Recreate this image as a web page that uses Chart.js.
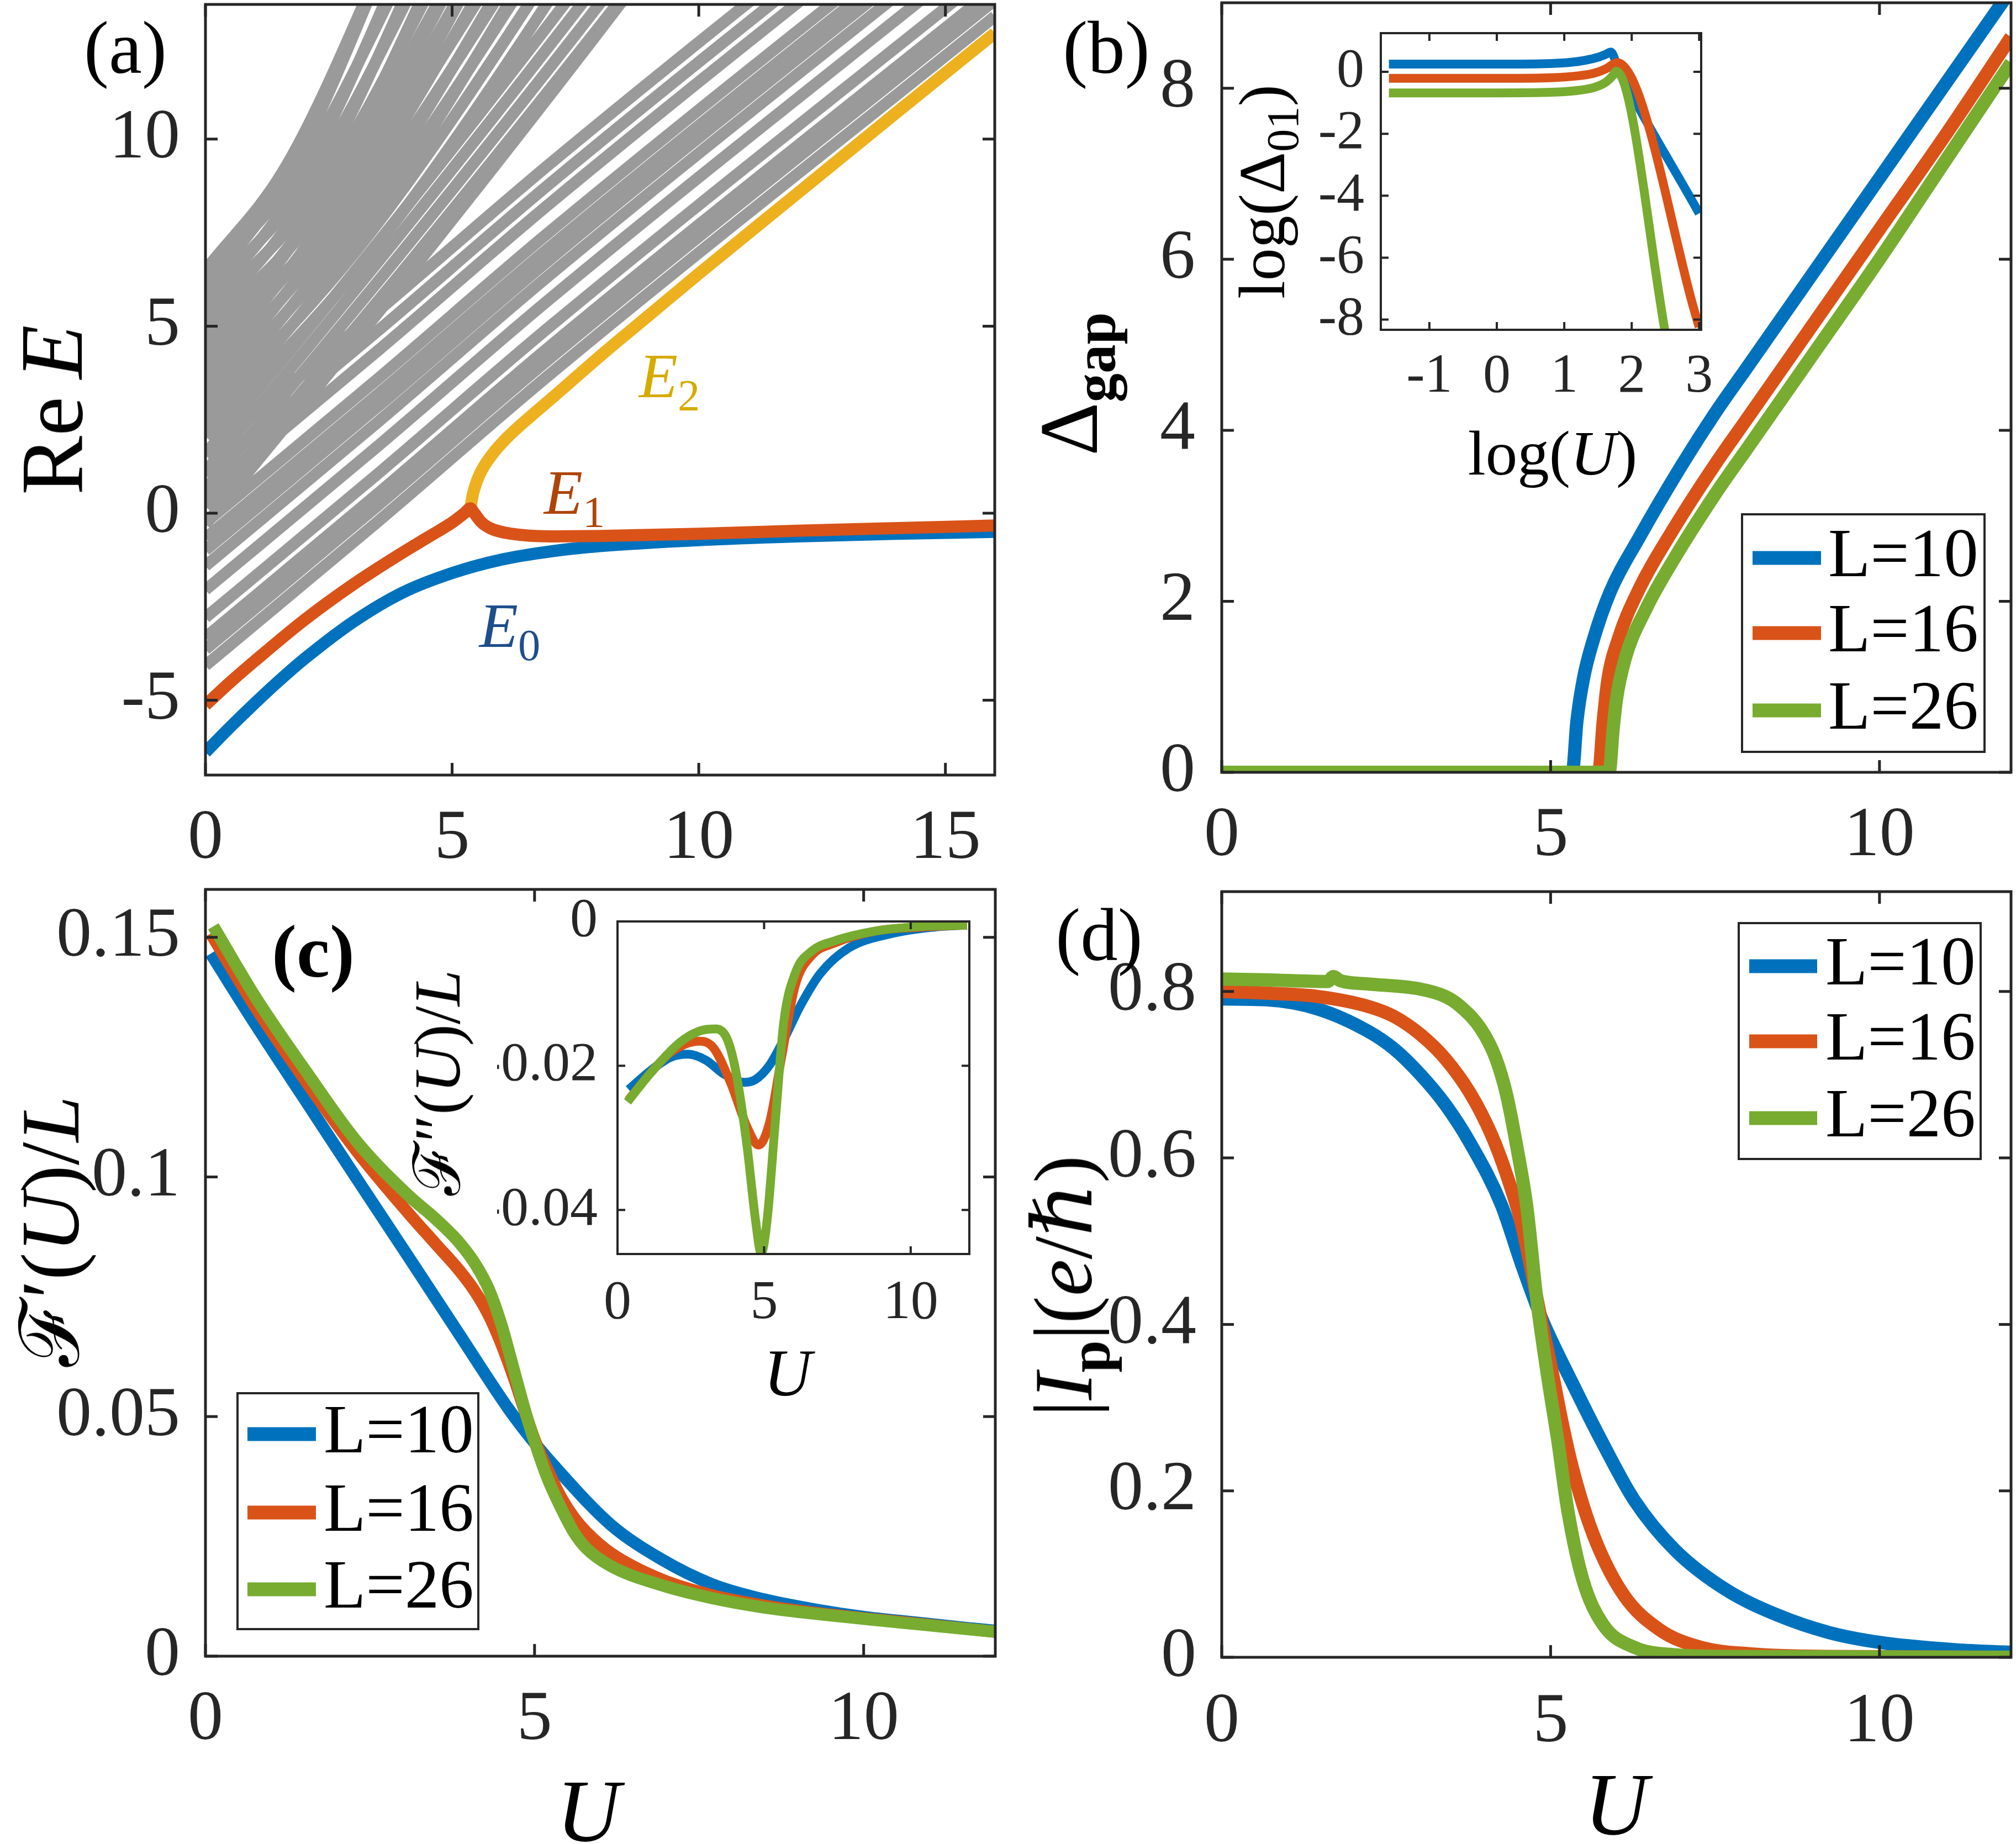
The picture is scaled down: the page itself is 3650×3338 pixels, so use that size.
<!DOCTYPE html>
<html>
<head>
<meta charset="utf-8">
<script src="https://cdn.jsdelivr.net/npm/chart.js@4.4.1/dist/chart.umd.min.js"></script>
<style>
  html, body { margin: 0; padding: 0; background: #fff; }
  #fig { position: relative; width: 3650px; height: 3338px; background: #fff; overflow: hidden;
         font-family: "Liberation Serif", "DejaVu Serif", serif; color: #000; }
  #fig canvas { position: absolute; }
  .lab { position: absolute; white-space: nowrap; line-height: 1; }
  .rot { transform: translate(-50%, -50%) rotate(-90deg); }
  .ctr { transform: translate(-50%, -50%); }
  .sb { font-size: 0.7em; position: relative; top: 0.3em; }
</style>
</head>
<body>
<div id="fig">
  <!-- panel letters -->
  <div class="lab ctr" style="left:227px;top:86px;font-size:135px">(a)</div>
  <div class="lab ctr" style="left:2003px;top:86px;font-size:135px">(b)</div>
  <div class="lab ctr" style="left:567px;top:1722px;font-size:135px;font-weight:bold">(c)</div>
  <div class="lab ctr" style="left:1990px;top:1692px;font-size:135px">(d)</div>

  <!-- axis titles -->
  <div class="lab rot" style="left:94px;top:742px;font-size:160px">Re&#8201;<i>E</i></div>
  <div class="lab rot" style="left:1935px;top:695px;font-size:150px">&Delta;<span class="sb" style="font-weight:bold">gap</span></div>
  <div class="lab rot" style="left:91px;top:2229px;font-size:150px">&#8497;&#8242;(<i>U</i>)/<i>L</i></div>
  <div class="lab rot" style="left:1925px;top:2328px;font-size:150px">|<i>I</i><span class="sb" style="font-weight:bold">p</span>|(<i>e</i>/<i>&#8463;</i>)</div>
  <div class="lab ctr" style="left:1065px;top:3278px;font-size:160px"><i>U</i></div>
  <div class="lab ctr" style="left:2926px;top:3266px;font-size:160px"><i>U</i></div>
</div>

<script>
// ---------- panel (a): Re E vs U ----------
const aTicksX = [0, 5, 10, 15];
const aTicksY = [-5, 0, 5, 10];

const e0U = [0, 0.5, 1, 1.5, 2, 3, 4, 5, 6, 7, 8, 10, 12, 14, 16];
const e0E = [-6.39, -5.72, -5.08, -4.47, -3.9, -2.9, -2.12, -1.6, -1.24, -1.02, -0.88, -0.72, -0.62, -0.55, -0.5];

const e1U = [0, 0.5, 1, 2, 3, 4, 4.5, 5, 5.25, 5.37, 5.45, 5.6, 5.8, 6.2, 7, 8, 10, 12, 14, 16];
const e1E = [-5.13, -4.52, -3.95, -2.86, -1.9, -1.05, -0.65, -0.25, 0.0, 0.13, 0.0, -0.25, -0.42, -0.55, -0.62, -0.61, -0.55, -0.47, -0.4, -0.33];

const e2U = [5.37, 5.42, 5.5, 5.6, 5.8, 6.1, 6.6, 7, 8, 9, 10, 12, 14, 16];
const e2E = [0.13, 0.5, 0.85, 1.15, 1.55, 2.0, 2.6, 3.05, 4.2, 5.3, 6.4, 8.55, 10.7, 12.83];

// steep gray levels (U, E) that leave through the top
const grayFan = [
  [[0, 6.5], [1.6, 9.2], [3.2, 13.6], [4.16, 16.8]],
  [[0, 6.27], [1.84, 9.06], [3.68, 13.6], [4.78, 16.9]],
  [[0, 6.03], [1.63, 8.91], [3.26, 13.6], [4.24, 17.01]],
  [[0, 5.8], [2.02, 8.76], [4.04, 13.6], [5.25, 17.11]],
  [[0, 5.56], [1.81, 8.62], [3.62, 13.6], [4.71, 17.22]],
  [[0, 5.33], [2.2, 8.47], [4.4, 13.6], [5.72, 17.32]],
  [[0, 5.09], [1.99, 8.32], [3.98, 13.6], [5.17, 17.43]],
  [[0, 4.86], [2.38, 8.18], [4.76, 13.6], [6.19, 17.53]],
  [[0, 4.62], [2.17, 8.03], [4.33, 13.6], [5.63, 17.64]],
  [[0, 4.39], [2.56, 7.89], [5.11, 13.6], [6.64, 17.74]],
  [[0, 4.16], [2.35, 8.31], [4.69, 13.6], [6.1, 17.19]],
  [[0, 3.92], [2.74, 8.18], [5.47, 13.6], [7.11, 17.28]],
  [[0, 3.69], [2.53, 8.05], [5.05, 13.6], [6.57, 17.37]],
  [[0, 3.45], [2.92, 7.92], [5.83, 13.6], [7.58, 17.46]],
  [[0, 3.22], [2.71, 7.79], [5.41, 13.6], [7.03, 17.54]],
  [[0, 2.98], [3.1, 7.65], [6.19, 13.6], [8.05, 17.64]],
  [[0, 2.75], [2.89, 7.52], [5.77, 13.6], [7.5, 17.72]],
  [[0, 2.51], [3.28, 7.39], [6.55, 13.6], [8.52, 17.81]],
  [[0, 2.28], [3.07, 7.26], [6.13, 13.6], [7.97, 17.9]],
  [[0, 2.05], [3.46, 7.13], [6.91, 13.6], [8.98, 17.99]],
  [[0, 1.58], [3.64, 7.47], [7.27, 13.6], [9.45, 17.45]],
  [[0, 1.11], [3.81, 7.23], [7.62, 13.6], [9.91, 17.6]],
  [[0, 0.64], [3.99, 6.99], [7.98, 13.6], [10.37, 17.75]],
  [[0, 0.17], [4.17, 6.75], [8.34, 13.6], [10.84, 17.9]],
  [[0, -0.3], [4.2, 6.51], [8.4, 13.6], [10.92, 18.05]]
];
// gray levels running parallel to E2
const grayBranch = [
  [[0, -4.07], [3.5, -0.22], [7, 3.73], [16, 13.28]],
  [[0, -3.64], [3.5, 0.21], [7, 4.16], [16, 13.71]],
  [[0, -3.32], [3.5, 0.53], [7, 4.48], [16, 14.03]],
  [[0, -2.79], [3.5, 1.06], [7, 5.01], [16, 14.56]],
  [[0, -2.05], [3.5, 1.8], [7, 5.75], [16, 15.3]],
  [[0, -1.41], [3.5, 2.44], [7, 6.39], [16, 15.94]],
  [[0, -0.99], [3.5, 2.86], [7, 6.81], [16, 16.36]],
  [[0, -0.67], [3.5, 3.18], [7, 7.13], [16, 16.68]],
  [[0, -0.25], [3.5, 3.6], [7, 7.55], [16, 17.1]],
  [[0, 0.5], [3.5, 4.35], [7, 8.3], [16, 17.85]],
  [[0, 1.03], [3.5, 4.88], [7, 8.83], [16, 18.38]],
  [[0, 1.56], [3.5, 5.41], [7, 9.36], [16, 18.91]]
];

// ---------- panel (b): gap vs U ----------
const bTicksX = [0, 5, 10];
const bTicksY = [0, 2, 4, 6, 8];
const gapU10 = [0, 5.33, 5.4, 5.5, 5.65, 5.9, 6.35, 7.0, 7.5, 8.0, 9.0, 10.0, 11.0, 12.0];
const gap10 = [0, 0, 0.6, 1.1, 1.55, 2.1, 2.75, 3.6, 4.2, 4.75, 5.85, 6.95, 8.05, 9.15];
const gapU16 = [0, 5.73, 5.8, 5.87, 6.03, 6.35, 6.88, 7.5, 8.0, 9.0, 10.0, 11.0, 12.0];
const gap16 = [0, 0, 0.6, 1.08, 1.56, 2.15, 2.86, 3.6, 4.15, 5.25, 6.35, 7.45, 8.6];
const gapU26 = [0, 5.89, 5.95, 6.0, 6.13, 6.45, 6.88, 7.5, 8.0, 9.0, 10.0, 11.0, 12.0];
const gap26 = [0, 0, 0.5, 0.85, 1.32, 1.91, 2.5, 3.25, 3.8, 4.9, 6.0, 7.15, 8.3];

// inset of (b): log(gap) vs log(U)
const biTicksX = [-1, 0, 1, 2, 3];
const biTicksY = [-8, -6, -4, -2, 0];
const lgU10 = [-1.6, 0, 0.8, 1.1, 1.3, 1.5, 1.62, 1.69, 1.8, 3.0];
const lgD10 = [0.25, 0.25, 0.27, 0.31, 0.37, 0.47, 0.57, 0.64, 0.11, -4.57];
const lgU16 = [-1.6, 0, 0.8, 1.2, 1.45, 1.62, 1.72, 1.78, 3.0];
const lgD16 = [-0.21, -0.21, -0.19, -0.13, -0.04, 0.1, 0.24, 0.3, -8.24];
const lgU26 = [-1.6, 0, 0.8, 1.2, 1.45, 1.62, 1.72, 1.77, 2.52];
const lgD26 = [-0.68, -0.68, -0.66, -0.6, -0.5, -0.33, -0.12, 0.02, -8.7];

// ---------- panel (c): F'(U)/L ----------
const cTicksX = [0, 5, 10];
const cTicksY = [0, 0.05, 0.1, 0.15];
const fU10 = [0.08, 0.77, 1.54, 2.31, 3.08, 3.85, 4.62, 4.97, 5.39, 6.16, 6.93, 7.7, 8.47, 9.24, 10.0, 10.8, 11.56, 12.0];
const f10 = [0.1466, 0.1316, 0.1155, 0.0994, 0.0834, 0.0673, 0.0513, 0.045, 0.0383, 0.0274, 0.0202, 0.015, 0.0119, 0.0098, 0.0082, 0.007, 0.0059, 0.0053];
const fU16 = [0.08, 0.77, 1.54, 2.31, 3.08, 3.5, 3.85, 4.1, 4.31, 4.5, 4.7, 4.85, 5.0, 5.2, 5.4, 5.6, 5.78, 6.16, 6.93, 7.7, 8.47, 9.24, 10.8, 12.0];
const f16 = [0.1508, 0.1352, 0.1197, 0.1052, 0.0925, 0.086, 0.0806, 0.076, 0.071, 0.065, 0.0575, 0.0512, 0.0452, 0.0388, 0.0332, 0.0289, 0.026, 0.0215, 0.016, 0.0127, 0.0106, 0.0091, 0.0068, 0.0051];
const fU26 = [0.12, 0.77, 1.54, 2.31, 3.08, 3.5, 3.85, 4.1, 4.31, 4.5, 4.7, 4.85, 5.0, 5.2, 5.4, 5.6, 5.78, 6.16, 6.93, 7.7, 8.47, 9.24, 10.8, 12.0];
const f26 = [0.1523, 0.1373, 0.1218, 0.1072, 0.0962, 0.0912, 0.0864, 0.0818, 0.0764, 0.069, 0.059, 0.0515, 0.0448, 0.037, 0.031, 0.0258, 0.0226, 0.0188, 0.0148, 0.0121, 0.0102, 0.0089, 0.0067, 0.0051];

// inset of (c): F''(U)/L
const ciTicksX = [0, 5, 10];
const ciTicksY = [-0.04, -0.02, 0];
const fiU10 = [0.38, 1.15, 1.83, 2.4, 3.0, 3.65, 4.33, 4.71, 5.19, 5.67, 6.25, 6.92, 7.88, 9.33, 10.77, 11.92];
const fi10 = [-0.0233, -0.0206, -0.0188, -0.0184, -0.0192, -0.0212, -0.0223, -0.0219, -0.0199, -0.0164, -0.0116, -0.0072, -0.0037, -0.0017, -0.0008, -0.0005];
const fiU16 = [0.38, 1.15, 1.83, 2.79, 3.27, 3.85, 4.42, 4.81, 5.19, 5.58, 6.06, 6.63, 7.4, 8.85, 10.3, 11.92];
const fi16 = [-0.0247, -0.0209, -0.0181, -0.0166, -0.0175, -0.0223, -0.0285, -0.031, -0.0278, -0.0192, -0.0089, -0.0047, -0.003, -0.0013, -0.0008, -0.0005];
const fiU26 = [0.34, 1.15, 2.12, 2.79, 3.37, 3.75, 4.04, 4.42, 4.71, 4.9, 5.1, 5.38, 5.67, 6.06, 6.63, 7.4, 8.85, 10.3, 11.92];
const fi26 = [-0.025, -0.0209, -0.0168, -0.0152, -0.0149, -0.0164, -0.0209, -0.0312, -0.0415, -0.046, -0.0415, -0.0278, -0.014, -0.0072, -0.0041, -0.0027, -0.0013, -0.0007, -0.0005];

// ---------- panel (d): |Ip| ----------
const dTicksX = [0, 5, 10];
const dTicksY = [0, 0.2, 0.4, 0.6, 0.8];
const iU10 = [0, 0.68, 1.46, 2.23, 2.62, 3.01, 3.40, 3.79, 4.25, 4.56, 4.87, 5.34, 5.80, 6.27, 6.89, 7.67, 8.44, 9.22, 9.99, 11.16, 12.0];
const i10 = [0.791, 0.790, 0.779, 0.752, 0.731, 0.701, 0.664, 0.616, 0.544, 0.472, 0.406, 0.328, 0.256, 0.189, 0.129, 0.081, 0.051, 0.030, 0.018, 0.009, 0.006];
const iU16 = [0, 0.68, 1.46, 2.23, 2.62, 3.01, 3.40, 3.79, 4.10, 4.33, 4.56, 4.72, 4.87, 5.03, 5.18, 5.34, 5.65, 6.11, 6.66, 7.28, 8.05, 9.22, 12.0];
const i16 = [0.800, 0.798, 0.794, 0.782, 0.770, 0.749, 0.719, 0.676, 0.628, 0.580, 0.520, 0.460, 0.400, 0.340, 0.280, 0.225, 0.147, 0.075, 0.033, 0.012, 0.004, 0.001, 0];
const iU26 = [0, 0.68, 1.61, 1.7, 1.8, 2.23, 3.01, 3.40, 3.63, 3.94, 4.17, 4.33, 4.48, 4.64, 4.79, 4.95, 5.11, 5.26, 5.49, 5.80, 6.27, 6.89, 7.67, 12.0];
const i26 = [0.815, 0.814, 0.812, 0.818, 0.813, 0.809, 0.803, 0.794, 0.782, 0.755, 0.719, 0.676, 0.616, 0.540, 0.430, 0.340, 0.260, 0.177, 0.093, 0.039, 0.012, 0.003, 0.001, 0];

const seriesLabels = ['L=10', 'L=16', 'L=26'];

// ---------- drawing ----------
const FONT = '"Liberation Serif", "Times New Roman", serif';
const AXIS = '#262626';
const BLUE = '#0072BD', RED = '#D95319', YEL = '#EDB120', GRN = '#77AC30', GRAY = '#9A9A9A';
const fig = document.getElementById('fig');

const pts = (xs, ys) => xs.map((x, i) => ({ x, y: ys[i] }));
const pairs = arr => arr.map(([x, y]) => ({ x, y }));

function line(data, color, width, order, label) {
  return { label, data, borderColor: color, borderWidth: width, pointRadius: 0, fill: false,
           cubicInterpolationMode: 'monotone', borderJoinStyle: 'round', borderCapStyle: 'butt', order };
}

// MATLAB-like box with inward ticks on all four sides
const matBox = {
  id: 'matBox',
  beforeDatasetsDraw(chart, args, o) {
    if (!o.fill) return;
    const a = chart.chartArea, ctx = chart.ctx;
    ctx.save();
    ctx.fillStyle = o.fill;
    ctx.fillRect(a.left, a.top, a.right - a.left, a.bottom - a.top);
    ctx.restore();
  },
  afterDatasetsDraw(chart, args, o) {
    const { ctx, chartArea: a, scales: { x, y } } = chart;
    ctx.save();
    ctx.strokeStyle = AXIS;
    ctx.lineWidth = o.lw;
    ctx.beginPath();
    x.ticks.forEach(t => {
      const px = x.getPixelForValue(t.value);
      ctx.moveTo(px, a.bottom); ctx.lineTo(px, a.bottom - o.tick);
      ctx.moveTo(px, a.top); ctx.lineTo(px, a.top + o.tick);
    });
    y.ticks.forEach(t => {
      const py = y.getPixelForValue(t.value);
      ctx.moveTo(a.left, py); ctx.lineTo(a.left + o.tick, py);
      ctx.moveTo(a.right, py); ctx.lineTo(a.right - o.tick, py);
    });
    ctx.stroke();
    ctx.strokeRect(a.left, a.top, a.right - a.left, a.bottom - a.top);
    ctx.restore();
  }
};

// boxed legend, placed in page coordinates
const boxLegend = {
  id: 'boxLegend',
  afterDraw(chart, args, o) {
    if (!o || !o.rect) return;
    const ctx = chart.ctx;
    const [x, y, w, h] = o.rect;
    ctx.save();
    ctx.translate(-o.ox, -o.oy);
    ctx.fillStyle = '#fff';
    ctx.fillRect(x, y, w, h);
    ctx.lineWidth = 4;
    ctx.strokeStyle = AXIS;
    ctx.strokeRect(x, y, w, h);
    chart.data.datasets.forEach((d, i) => {
      const cy = o.rows[i];
      ctx.strokeStyle = d.borderColor;
      ctx.lineWidth = 25;
      ctx.beginPath();
      ctx.moveTo(o.sample[0], cy);
      ctx.lineTo(o.sample[1], cy);
      ctx.stroke();
      ctx.fillStyle = '#000';
      ctx.font = o.font;
      ctx.textBaseline = 'middle';
      ctx.fillText(d.label, o.textX, cy);
    });
    ctx.restore();
  }
};

function noPad(sc) {
  sc.paddingLeft = 0; sc.paddingRight = 0; sc.paddingTop = 0; sc.paddingBottom = 0;
}

function makeChart(s) {
  const [bx, by, bw, bh] = s.box, [L, T, R, B] = s.area;
  const cv = document.createElement('canvas');
  cv.width = bw; cv.height = bh;
  cv.style.left = bx + 'px'; cv.style.top = by + 'px';
  cv.style.width = bw + 'px'; cv.style.height = bh + 'px';
  fig.insertBefore(cv, fig.firstChild);
  const tickFont = { family: FONT, size: s.tickSize };
  return new Chart(cv, {
    type: 'line',
    data: { datasets: s.datasets },
    options: {
      responsive: false, animation: false, devicePixelRatio: 1, events: [],
      layout: { padding: { left: 0, top: T - by, right: bx + bw - R, bottom: 0 } },
      scales: {
        x: {
          type: 'linear', min: s.xr[0], max: s.xr[1],
          grid: { display: false, drawTicks: false }, border: { display: false },
          afterBuildTicks: sc => { sc.ticks = s.xt.map(v => ({ value: v })); },
          afterFit: sc => { sc.height = by + bh - B; noPad(sc); },
          ticks: { font: tickFont, color: AXIS, padding: s.xpad, maxRotation: 0, minRotation: 0,
                   autoSkip: false, callback: v => String(v) }
        },
        y: {
          type: 'linear', min: s.yr[0], max: s.yr[1],
          grid: { display: false, drawTicks: false }, border: { display: false },
          afterBuildTicks: sc => { sc.ticks = s.yt.map(v => ({ value: v })); },
          afterFit: sc => { sc.width = L - bx; noPad(sc); },
          ticks: { font: tickFont, color: AXIS, padding: s.ypad, autoSkip: false, callback: v => String(v) }
        }
      },
      plugins: {
        legend: { display: false }, tooltip: { enabled: false },
        matBox: { tick: s.tickLen, lw: s.boxLw, fill: s.fill || null },
        boxLegend: s.legend ? Object.assign({ ox: bx, oy: by }, s.legend) : null
      }
    },
    plugins: [matBox, boxLegend]
  });
}

const legendFont = '125px ' + FONT;

// insets first (each canvas is inserted before the previous one, so insets end up on top)
makeChart({
  box: [2280, 0, 840, 900], area: [2500, 60, 3080, 597],
  xr: [-1.72, 3.03], yr: [-8.33, 1.25], xt: biTicksX, yt: biTicksY,
  tickSize: 100, xpad: 26, ypad: 30, tickLen: 14, boxLw: 4, fill: '#fff',
  datasets: [
    line(pts(lgU10, lgD10), BLUE, 16, 2),
    line(pts(lgU16, lgD16), RED, 16, 1),
    line(pts(lgU26, lgD26), GRN, 16, 0)
  ]
});
makeChart({
  box: [900, 1600, 900, 830], area: [1118, 1668, 1755, 2270],
  xr: [0, 12], yr: [-0.0461, 0], xt: ciTicksX, yt: ciTicksY,
  tickSize: 100, xpad: 30, ypad: 36, tickLen: 14, boxLw: 4, fill: '#fff',
  datasets: [
    line(pts(fiU10, fi10), BLUE, 16, 2),
    line(pts(fiU16, fi16), RED, 16, 1),
    line(pts(fiU26, fi26), GRN, 16, 0)
  ]
});

makeChart({
  box: [0, 0, 1840, 1600], area: [372, 8, 1801, 1403],
  xr: [0, 16], yr: [-7, 13.6], xt: aTicksX, yt: aTicksY,
  tickSize: 128, xpad: 40, ypad: 46, tickLen: 22, boxLw: 5,
  datasets: [
    line(pts(e1U, e1E), RED, 22, 0),
    line(pts(e2U, e2E), YEL, 22, 1),
    line(pts(e0U, e0E), BLUE, 22, 2),
    ...grayBranch.map(g => line(pairs(g), GRAY, 21, 10)),
    ...grayFan.map(g => line(pairs(g), GRAY, 21, 11))
  ]
});

makeChart({
  box: [1850, 0, 1800, 1600], area: [2212, 5, 3641, 1398],
  xr: [0, 12], yr: [0, 9], xt: bTicksX, yt: bTicksY,
  tickSize: 128, xpad: 40, ypad: 48, tickLen: 22, boxLw: 5,
  legend: { rect: [3154, 931, 439, 430], rows: [1010, 1146, 1286], sample: [3173, 3297], textX: 3310, font: legendFont },
  datasets: [
    line(pts(gapU10, gap10), BLUE, 24, 2, seriesLabels[0]),
    line(pts(gapU16, gap16), RED, 24, 1, seriesLabels[1]),
    line(pts(gapU26, gap26), GRN, 24, 0, seriesLabels[2])
  ]
});

makeChart({
  box: [0, 1560, 1840, 1778], area: [372, 1610, 1802, 2998],
  xr: [0, 12], yr: [0, 0.16], xt: cTicksX, yt: cTicksY,
  tickSize: 128, xpad: 40, ypad: 46, tickLen: 22, boxLw: 5,
  legend: { rect: [430, 2522, 436, 427], rows: [2596, 2738, 2877], sample: [448, 572], textX: 586, font: legendFont },
  datasets: [
    line(pts(fU10, f10), BLUE, 22, 2, seriesLabels[0]),
    line(pts(fU16, f16), RED, 22, 1, seriesLabels[1]),
    line(pts(fU26, f26), GRN, 22, 0, seriesLabels[2])
  ]
});

makeChart({
  box: [1850, 1560, 1800, 1778], area: [2212, 1614, 3641, 3000],
  xr: [0, 12], yr: [0, 0.92], xt: dTicksX, yt: dTicksY,
  tickSize: 128, xpad: 42, ypad: 46, tickLen: 22, boxLw: 5,
  legend: { rect: [3148, 1671, 438, 427], rows: [1749, 1885, 2024], sample: [3167, 3290], textX: 3305, font: legendFont },
  datasets: [
    line(pts(iU10, i10), BLUE, 24, 2, seriesLabels[0]),
    line(pts(iU16, i16), RED, 24, 1, seriesLabels[1]),
    line(pts(iU26, i26), GRN, 24, 0, seriesLabels[2])
  ]
});

// labels that sit on top of the canvases
function addLabel(html, x, y, size, cls, style) {
  const d = document.createElement('div');
  d.className = 'lab ' + cls;
  d.style.left = x + 'px'; d.style.top = y + 'px'; d.style.fontSize = size + 'px';
  if (style) d.style.cssText += style;
  d.innerHTML = html;
  fig.appendChild(d);
}
addLabel('<i>E</i><span class="sb">0</span>', 923, 1132, 115, 'ctr', 'color:#1f4e8c');
addLabel('<i>E</i><span class="sb">1</span>', 1040, 891, 115, 'ctr', 'color:#b04408');
addLabel('<i>E</i><span class="sb">2</span>', 1212, 680, 115, 'ctr', 'color:#d6ab00');
addLabel('log(&Delta;<span class="sb">01</span>)', 2286, 347, 118, 'rot');
addLabel('log(<i>U</i>)', 2811, 820, 115, 'ctr');
addLabel('&#8497;&#8243;(<i>U</i>)/<i>L</i>', 793, 1960, 118, 'rot');
addLabel('<i>U</i>', 1426, 2486, 120, 'ctr');
</script>
</body>
</html>
